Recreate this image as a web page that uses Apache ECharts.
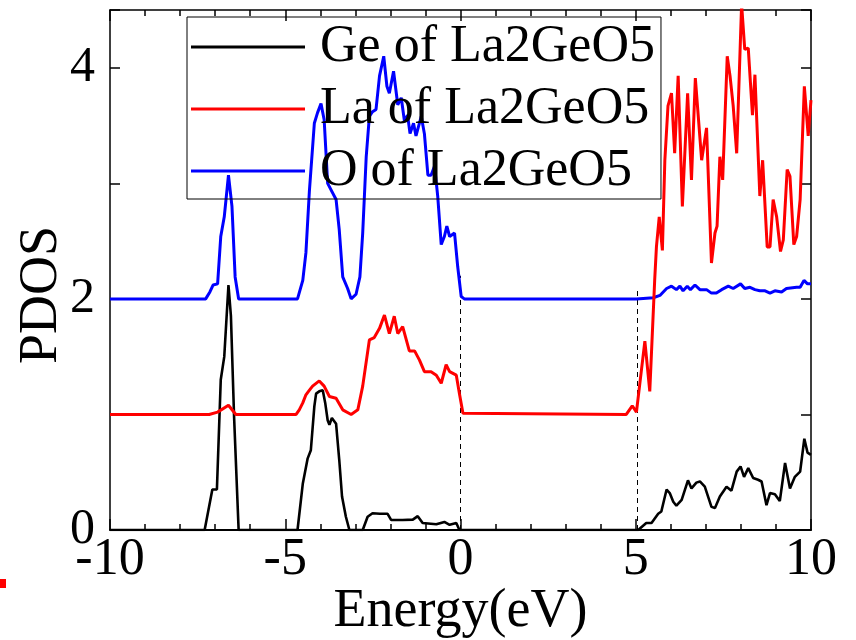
<!DOCTYPE html>
<html>
<head>
<meta charset="utf-8">
<title>PDOS of La2GeO5</title>
<script src="https://cdn.jsdelivr.net/npm/echarts@6/dist/echarts.min.js"></script>
<style>
  html, body { margin: 0; padding: 0; background: #fff; }
  #chart { width: 856px; height: 640px; }
</style>
</head>
<body>
<div id="chart"></div>
<script>
// values (energy in eV, PDOS offset curves)
const legendNames = ['Ge of La2GeO5', 'La of La2GeO5', 'O of La2GeO5']

const geEnergy = [-10, -7.3, -7.08, -6.95, -6.84, -6.74, -6.62, -6.55, -6.46, -6.33,
  -4.65, -4.5, -4.36, -4.27, -4.17, -4.12, -4.03, -3.93, -3.86, -3.79,
  -3.74, -3.67, -3.55, -3.46, -3.38, -3.27, -3.17, -2.79, -2.65, -2.51,
  -2.3, -2.08, -1.98, -1.65, -1.36, -1.22, -1.08, -0.69, -0.46, -0.31,
  -0.12, -0.03, 5.07, 5.3, 5.45, 5.64, 5.73, 5.88, 5.97, 6.07,
  6.16, 6.31, 6.49, 6.59, 6.73, 6.83, 6.97, 7.16, 7.26, 7.4,
  7.59, 7.73, 7.88, 7.99, 8.09, 8.21, 8.35, 8.49, 8.59, 8.73,
  8.83, 8.97, 9.11, 9.26, 9.4, 9.54, 9.69, 9.81, 9.9, 10]
const gePdos = [0, 0, 0.35, 0.35, 1.30, 1.50, 2.12, 1.85, 0.98, 0,
  0, 0.40, 0.62, 0.69, 1.07, 1.18, 1.20, 1.21, 1.10, 0.95,
  0.91, 0.97, 0.92, 0.61, 0.29, 0.115, 0, 0, 0.115, 0.145,
  0.14, 0.14, 0.087, 0.087, 0.09, 0.12, 0.06, 0.05, 0.07, 0.045,
  0.06, 0, 0, 0.06, 0.06, 0.14, 0.16, 0.35, 0.32, 0.245,
  0.21, 0.26, 0.43, 0.36, 0.41, 0.42, 0.375, 0.20, 0.19, 0.29,
  0.375, 0.34, 0.505, 0.55, 0.46, 0.535, 0.45, 0.435, 0.42, 0.215,
  0.32, 0.31, 0.25, 0.58, 0.36, 0.46, 0.505, 0.79, 0.67, 0.65]

const laEnergy = [-10, -7.17, -6.93, -6.62, -6.41, -4.69, -4.6, -4.5, -4.41, -4.31,
  -4.22, -4.03, -3.89, -3.74, -3.55, -3.36, -3.12, -2.93, -2.79, -2.6,
  -2.46, -2.31, -2.17, -2.03, -1.89, -1.79, -1.65, -1.46, -1.31, -1.17,
  -1.03, -0.84, -0.69, -0.55, -0.41, -0.31, -0.12, -0.03, 0.07, 4.73,
  4.9, 5.02, 5.26, 5.4, 5.54, 5.59, 5.67, 5.76, 5.83, 5.92,
  6.02, 6.11, 6.21, 6.33, 6.48, 6.59, 6.7, 6.88, 7.02, 7.16,
  7.26, 7.32, 7.4, 7.48, 7.61, 7.69, 7.78, 7.88, 8.02, 8.11,
  8.21, 8.33, 8.4, 8.54, 8.62, 8.75, 8.83, 8.92, 9.02, 9.13,
  9.21, 9.32, 9.4, 9.51, 9.59, 9.69, 9.81, 9.92, 10]
const laPdos = [1, 1, 1.02, 1.08, 1, 1, 1.04, 1.10, 1.17, 1.21,
  1.245, 1.29, 1.245, 1.155, 1.14, 1.04, 1.0, 1.04, 1.245, 1.645,
  1.665, 1.745, 1.86, 1.70, 1.85, 1.70, 1.76, 1.55, 1.55, 1.47,
  1.37, 1.37, 1.34, 1.27, 1.43, 1.37, 1.34, 1.18, 1.01, 1.0,
  1.075, 1.02, 1.635, 1.20, 2.16, 2.45, 2.71, 2.42, 3.20, 3.67,
  3.78, 3.26, 3.93, 2.80, 3.78, 3.03, 3.91, 3.20, 3.48, 2.31,
  2.57, 2.63, 3.23, 3.03, 4.10, 3.93, 3.67, 3.26, 4.55, 4.16,
  4.17, 3.59, 3.94, 2.89, 3.20, 2.45, 2.45, 2.86, 2.71, 2.41,
  2.51, 3.12, 3.06, 2.47, 2.54, 2.86, 3.84, 3.41, 3.72]

const oEnergy = [-10, -7.27, -7.15, -7.06, -6.93, -6.84, -6.74, -6.62, -6.52, -6.43,
  -6.33, -4.65, -4.5, -4.41, -4.31, -4.17, -4.08, -3.98, -3.89, -3.79,
  -3.55, -3.46, -3.36, -3.22, -3.12, -2.98, -2.87, -2.79, -2.69, -2.6,
  -2.51, -2.41, -2.31, -2.19, -2.1, -2.03, -1.91, -1.79, -1.69, -1.6,
  -1.51, -1.44, -1.34, -1.27, -1.12, -1.03, -0.93, -0.84, -0.74, -0.65,
  -0.55, -0.46, -0.39, -0.31, -0.17, -0.08, 0.02, 0.11, 5.02, 5.5,
  5.69, 5.88, 6.02, 6.16, 6.26, 6.35, 6.47, 6.56, 6.69, 6.83,
  7.02, 7.16, 7.3, 7.45, 7.64, 7.78, 7.99, 8.11, 8.26, 8.4,
  8.54, 8.69, 8.83, 8.97, 9.16, 9.3, 9.59, 9.69, 9.8, 9.9, 10]
const oPdos = [2, 2, 2.06, 2.12, 2.13, 2.54, 2.71, 3.07, 2.80, 2.19,
  2.0, 2.0, 2.16, 2.40, 2.94, 3.52, 3.61, 3.69, 3.55, 3.00,
  2.86, 2.60, 2.19, 2.09, 2.0, 2.04, 2.19, 2.57, 3.23, 3.58,
  3.62, 3.64, 3.93, 4.10, 3.84, 3.78, 3.97, 3.68, 3.74, 3.54,
  3.59, 3.43, 3.52, 3.41, 3.58, 3.43, 3.07, 3.07, 3.15, 2.89,
  2.47, 2.54, 2.63, 2.54, 2.57, 2.28, 2.02, 2.0, 2.0, 2.01,
  2.03, 2.09, 2.11, 2.08, 2.11, 2.07, 2.11, 2.08, 2.12, 2.08,
  2.08, 2.05, 2.05, 2.08, 2.11, 2.09, 2.13, 2.09, 2.10, 2.08,
  2.07, 2.07, 2.05, 2.07, 2.06, 2.09, 2.10, 2.10, 2.16, 2.13, 2.13]

// dashed guide lines (band edges)
const dashEnergy = [0, 5.05]
const dashTop = [2.2, 2.1]

const serif = "'Liberation Serif', 'Times New Roman', serif"
const pairs = (xs, ys) => xs.map((x, i) => [x, ys[i]])

const chart = echarts.init(document.getElementById('chart'))

const tickStyle = { color: '#000', width: 1.5 }

const curve = (name, xs, ys, color, width, z) => ({
  name,
  type: 'line',
  data: pairs(xs, ys),
  symbol: 'none',
  z,
  lineStyle: { color, width },
  itemStyle: { color },
  animation: false
})

const dashSeries = dashEnergy.map((x, i) => ({
  type: 'line',
  data: [[x, 0], [x, dashTop[i]]],
  symbol: 'none',
  z: 1,
  lineStyle: { color: '#000', width: 1, type: [5, 4] },
  animation: false,
  silent: true
}))

chart.setOption({
  animation: false,
  grid: { left: 110, right: 45, top: 10, bottom: 110, containLabel: false, outerBoundsMode: 'none' },
  legend: {
    data: legendNames,
    orient: 'vertical',
    left: 187,
    top: 17,
    padding: [4, 6, 2, 4],
    icon: 'rect',
    itemWidth: 114,
    itemHeight: 3,
    itemGap: 10,
    borderColor: '#000',
    borderWidth: 1,
    backgroundColor: 'transparent',
    textStyle: {
      fontFamily: serif,
      fontSize: 52,
      color: '#000',
      padding: [0, 0, 0, 10],
      width: 353
    }
  },
  xAxis: [
    {
      type: 'value',
      min: -10,
      max: 10,
      interval: 5,
      position: 'bottom',
      splitLine: { show: false },
      axisLine: { onZero: false, lineStyle: { color: '#000', width: 2 } },
      axisTick: { inside: true, length: 11, lineStyle: tickStyle },
      minorTick: { show: true, splitNumber: 5, length: 6, lineStyle: tickStyle },
      axisLabel: { fontFamily: serif, fontSize: 52, color: '#000', margin: 4 },
      name: 'Energy(eV)',
      nameLocation: 'middle',
      nameGap: 55,
      nameMoveOverlap: false,
      nameTextStyle: { fontFamily: serif, fontSize: 54, color: '#000' }
    },
    {
      type: 'value',
      min: -10,
      max: 10,
      interval: 5,
      position: 'top',
      splitLine: { show: false },
      axisLine: { onZero: false, lineStyle: { color: '#000', width: 1.5 } },
      axisTick: { inside: true, length: 11, lineStyle: tickStyle },
      minorTick: { show: true, splitNumber: 5, length: 6, lineStyle: tickStyle },
      axisLabel: { show: false }
    }
  ],
  yAxis: [
    {
      type: 'value',
      min: 0,
      max: 4.5,
      interval: 1,
      position: 'left',
      splitLine: { show: false },
      axisLine: { show: true, onZero: false, lineStyle: { color: '#000', width: 1.5 } },
      axisTick: { show: true, inside: true, length: 10, lineStyle: tickStyle },
      axisLabel: {
        fontFamily: serif,
        fontSize: 50,
        color: '#000',
        margin: 15,
        formatter: v => (v % 2 === 0 ? String(v) : '')
      },
      name: 'PDOS',
      nameLocation: 'middle',
      nameGap: 41,
      nameRotate: 90,
      nameMoveOverlap: false,
      nameTextStyle: { fontFamily: serif, fontSize: 54, color: '#000', padding: [0, 50, 0, 0] }
    },
    {
      type: 'value',
      min: 0,
      max: 4.5,
      interval: 1,
      position: 'right',
      splitLine: { show: false },
      axisLine: { show: true, onZero: false, lineStyle: { color: '#000', width: 1.5 } },
      axisTick: { show: true, inside: true, length: 10, lineStyle: tickStyle },
      axisLabel: { show: false }
    }
  ],
  series: [
    curve(legendNames[0], geEnergy, gePdos, '#000000', 2.6, 2),
    curve(legendNames[2], oEnergy, oPdos, '#0000ff', 3, 3),
    curve(legendNames[1], laEnergy, laPdos, '#ff0000', 3, 4),
    ...dashSeries
  ],
  graphic: [
    { type: 'rect', shape: { x: 0, y: 579, width: 6, height: 9 }, style: { fill: '#ff0000' } }
  ]
})
</script>
</body>
</html>
